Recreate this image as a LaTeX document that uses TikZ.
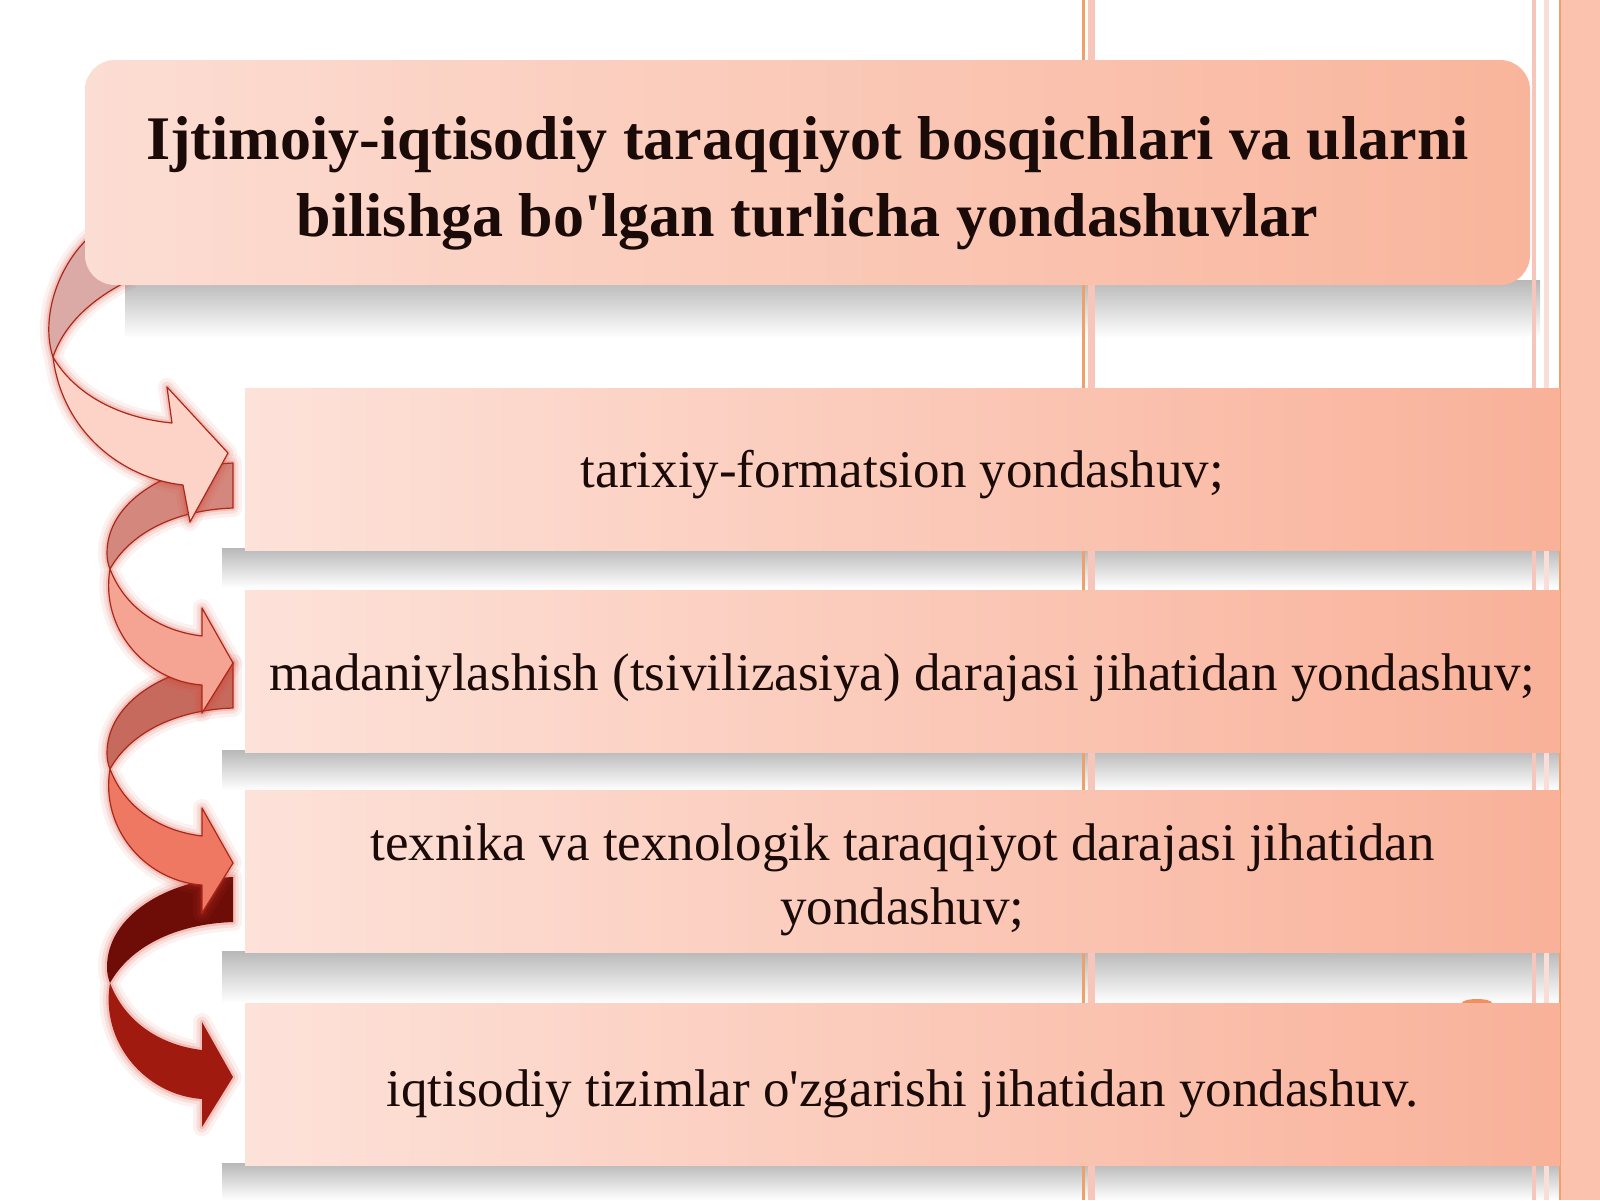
\documentclass[tikz,border=0pt]{standalone}
\usepackage{fontspec}
\setmainfont{Liberation Serif}
\begin{document}
\begin{tikzpicture}[x=1pt,y=-1pt,
  titlebox/.style={draw=none, rounded corners=30pt, left color=titleL, right color=titleR,
    minimum width=1445pt, minimum height=225pt, inner sep=0pt},
  itembox/.style={draw=none, left color=itemL, right color=itemR,
    minimum width=1315pt, minimum height=162pt, inner sep=0pt},
  titletext/.style={font=\fontsize{62}{77}\selectfont\bfseries, text=textdark, align=center},
  itemtext/.style={font=\fontsize{53}{64}\selectfont, text=textdark, align=center},
  glow/.style={preaction={draw=glowc, line width=18pt, opacity=0.07, line join=round},
               preaction={draw=glowc, line width=11pt, opacity=0.10, line join=round},
               preaction={draw=glowc, line width=5pt, opacity=0.18, line join=round}},
  ribbon/.style={draw=edgec, line width=1.2pt, line join=round},
  shadowband/.style={top color=shadowc, bottom color=white},
]
\definecolor{titleL}{HTML}{FCDDD3}
\definecolor{titleR}{HTML}{F9B59C}
\definecolor{itemL}{HTML}{FDE2D9}
\definecolor{itemR}{HTML}{F9B199}
\definecolor{textdark}{HTML}{1A0A08}
\definecolor{glowc}{HTML}{D83A28}
\definecolor{edgec}{HTML}{A8281A}
\definecolor{shadowc}{HTML}{B8B8B8}
\definecolor{orangeline}{HTML}{F0A068}
\definecolor{pinkline}{HTML}{F6C6BA}
\definecolor{rightband}{HTML}{FBC3AE}
\definecolor{aoneB}{HTML}{DCAAA6}
\definecolor{aoneF}{HTML}{FDD3C8}
\definecolor{atwoB}{HTML}{D4877D}
\definecolor{atwoF}{HTML}{F5A393}
\definecolor{athreeB}{HTML}{C66A5D}
\definecolor{athreeF}{HTML}{EE7862}
\definecolor{afourB}{HTML}{6E0D08}
\definecolor{afourF}{HTML}{A11A10}

% background and bounding box
\fill[white] (0,0) rectangle (1600,1200);
\useasboundingbox (0,0) rectangle (1600,1200);

% shadows
\shade[shadowband] (125,280) rectangle (1540,338);
\shade[shadowband] (222,548) rectangle (1560,588);
\shade[shadowband] (222,750) rectangle (1560,790);
\shade[shadowband] (222,951) rectangle (1560,1003);
\shade[shadowband] (222,1163) rectangle (1560,1200);

% vertical background lines
\fill[orangeline] (1082,0) rectangle (1084.5,1200);
\fill[pinkline] (1088,0) rectangle (1095,1200);
\fill[pinkline] (1532,0) rectangle (1536,1200);
\fill[pinkline!60!white] (1544,0) rectangle (1549,1200);
\fill[orangeline] (1558.5,0) rectangle (1561,1200);
\fill[rightband] (1561,0) rectangle (1600,1200);
\fill[orangeline!90!red] (1477,1003) ellipse (15 and 4);

% arrow 4 (T=1077)
\path[glow] (233,877) .. controls (165,880) and (107,917) .. (107,967) .. controls (107,973) and (108,978) .. (110,983)
   .. controls (100,1042) and (145,1095) .. (202,1099) -- (202,1127) -- (233,1077) -- (202,1022) -- (202,1050)
   .. controls (160,1045) and (125,1022) .. (110,983) .. controls (130,947) and (175,924) .. (233,922) -- cycle;
\fill[afourB] (233,877) .. controls (165,880) and (107,917) .. (107,967) .. controls (107,973) and (108,978) .. (110,983)
   .. controls (130,947) and (175,924) .. (233,922) -- cycle;
\fill[afourF] (110,983) .. controls (100,1042) and (145,1095) .. (202,1099) -- (202,1127) -- (233,1077)
   -- (202,1022) -- (202,1050) .. controls (160,1045) and (125,1022) .. (110,983) -- cycle;

% arrow 3 (T=863)
\path[glow] (233,663) .. controls (165,666) and (107,703) .. (107,753) .. controls (107,759) and (108,764) .. (110,769)
   .. controls (100,828) and (145,881) .. (202,885) -- (202,913) -- (233,863) -- (202,808) -- (202,836)
   .. controls (160,831) and (125,808) .. (110,769) .. controls (130,733) and (175,710) .. (233,708) -- cycle;
\filldraw[ribbon, fill=athreeB] (233,663) .. controls (165,666) and (107,703) .. (107,753) .. controls (107,759) and (108,764) .. (110,769)
   .. controls (130,733) and (175,710) .. (233,708) -- cycle;
\filldraw[ribbon, fill=athreeF] (110,769) .. controls (100,828) and (145,881) .. (202,885) -- (202,913) -- (233,863)
   -- (202,808) -- (202,836) .. controls (160,831) and (125,808) .. (110,769) -- cycle;

% arrow 2 (T=663)
\path[glow] (233,463) .. controls (165,466) and (107,503) .. (107,553) .. controls (107,559) and (108,564) .. (110,569)
   .. controls (100,628) and (145,681) .. (202,685) -- (202,713) -- (233,663) -- (202,608) -- (202,636)
   .. controls (160,631) and (125,608) .. (110,569) .. controls (130,533) and (175,510) .. (233,508) -- cycle;
\filldraw[ribbon, fill=atwoB] (233,463) .. controls (165,466) and (107,503) .. (107,553) .. controls (107,559) and (108,564) .. (110,569)
   .. controls (130,533) and (175,510) .. (233,508) -- cycle;
\filldraw[ribbon, fill=atwoF] (110,569) .. controls (100,628) and (145,681) .. (202,685) -- (202,713) -- (233,663)
   -- (202,608) -- (202,636) .. controls (160,631) and (125,608) .. (110,569) -- cycle;

% arrow 1 (T=453)
\path[glow] (95,232) .. controls (58,262) and (40,318) .. (53,357)
   .. controls (62,430) and (120,478) .. (183,485) -- (190,522) -- (228,453) -- (167,387) -- (172,423)
   .. controls (120,418) and (75,395) .. (53,357) .. controls (65,322) and (95,297) .. (130,280) -- cycle;
\filldraw[ribbon, fill=aoneB] (95,232) .. controls (58,262) and (40,318) .. (53,357)
   .. controls (65,322) and (95,297) .. (130,280) -- cycle;
\filldraw[ribbon, fill=aoneF] (53,357) .. controls (62,430) and (120,478) .. (183,485) -- (190,522) -- (228,453)
   -- (167,387) -- (172,423) .. controls (120,418) and (75,395) .. (53,357) -- cycle;

% boxes
\node[titlebox] (title) at (807.5,172.5) {};
\node[itembox] (b1) at (902.5,469) {};
\node[itembox] (b2) at (902.5,671) {};
\node[itembox] (b3) at (902.5,871.5) {};
\node[itembox] (b4) at (902.5,1084) {};

% texts
\node[titletext] (ttl) at ([yshift=-11pt]title.center) {Ijtimoiy-iqtisodiy taraqqiyot bosqichlari va ularni\\bilishga bo\textquotesingle lgan turlicha yondashuvlar};
\node[itemtext] (t1) at ([yshift=-6pt]b1.center) {tarixiy-formatsion yondashuv;};
\node[itemtext] (t2) at ([yshift=-7pt]b2.center) {madaniylashish (tsivilizasiya) darajasi jihatidan yondashuv;};
\node[itemtext] (t3) at ([yshift=-8pt]b3.center) {texnika va texnologik taraqqiyot darajasi jihatidan\\yondashuv;};
\node[itemtext] (t4) at ([yshift=-10pt]b4.center) {iqtisodiy tizimlar o\textquotesingle zgarishi jihatidan yondashuv.};
\end{tikzpicture}
\end{document}
